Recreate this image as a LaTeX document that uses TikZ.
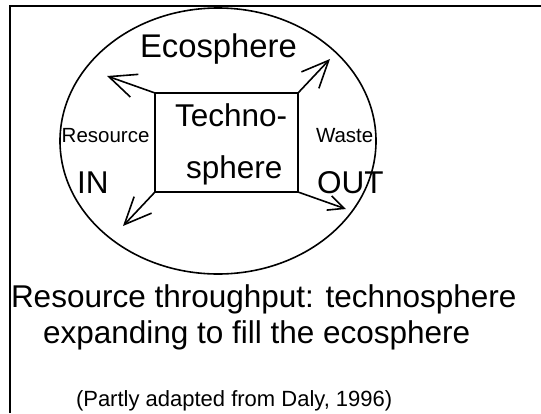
\documentclass[tikz,border=0pt]{standalone}
\usepackage{fontspec}
\setmainfont{Liberation Sans}
\usetikzlibrary{arrows.meta,shapes.geometric}
\tikzset{
  lbl/.style={inner sep=0pt, outer sep=0pt, anchor=base west},
  big/.style={lbl, font=\fontsize{31.5}{36}\selectfont},
  small/.style={lbl, font=\fontsize{20.5}{24}\selectfont},
  flow/.style={line width=1.6pt, -{Straight Barb[length=27pt,width=24pt,line width=1.6pt]}},
  flowsmall/.style={line width=1.6pt, -{Straight Barb[length=16pt,width=15pt,line width=1.6pt]}},
}
\begin{document}
\begin{tikzpicture}[x=1pt,y=-1pt]
\useasboundingbox (0,0) rectangle (541,413);
% frame
\draw[line width=2pt] (9.5,413) -- (9.5,5.5) -- (541,5.5);
% ecosphere
\node[ellipse, draw, line width=1.6pt, minimum width=316pt, minimum height=266pt, inner sep=0pt, outer sep=0pt] (eco) at (218,141) {};
% technosphere
\node[rectangle, draw, line width=2pt, minimum width=143pt, minimum height=99pt, inner sep=0pt, outer sep=0pt] (techno) at (226.5,142.5) {};
% free arrow ends
\coordinate (tl) at (107,76);
\coordinate (tr) at (330,59);
\coordinate (bl) at (123,226);
\coordinate (br) at (346,209);
\draw[flow] (techno.north west) -- (tl);
\draw[flow] (techno.north east) -- (tr);
\draw[flow] (techno.south west) -- (bl);
\draw[flowsmall] (techno.south east) -- (br);
% labels
\node[big, font=\fontsize{32.8}{36}\selectfont] (ecolbl) at (140,57.7) {Ecosphere};
\node[big] (tech1) at (175,126.7) {Techno-};
\node[big] (tech2) at (186,178) {sphere};
\node[small] (res) at (61.7,142) {Resource};
\node[small] (waste) at (316,142) {Waste};
\node[big] (in) at (77,193) {IN};
\node[big] (out) at (317,193) {OUT};
\node[big] (cap1) at (11,307.7) {Resource throughput: technosphere};
\node[big] (cap2) at (43,343) {expanding to fill the ecosphere};
\node[lbl, font=\fontsize{22}{26}\selectfont] (src) at (76,406) {(Partly adapted from Daly, 1996)};
\end{tikzpicture}
\end{document}
